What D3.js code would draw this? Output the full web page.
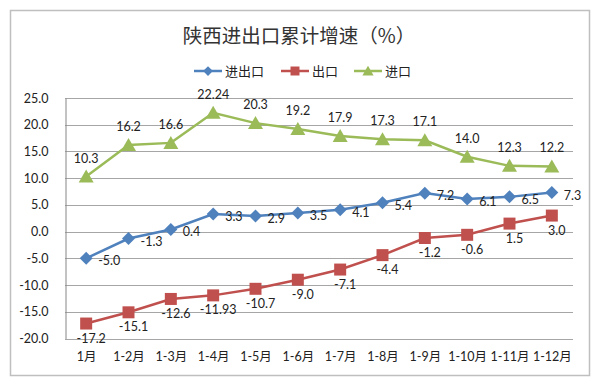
<!DOCTYPE html>
<html>
<head>
<meta charset="utf-8">
<script src="https://cdn.jsdelivr.net/npm/d3@7"></script>
<style>
  body { margin: 0; background: #fff; }
  text { font-family: Lato, "Noto Sans CJK SC", sans-serif; }
</style>
</head>
<body>
<div id="chart"></div>
<script>
var months = ["1月", "1-2月", "1-3月", "1-4月", "1-5月", "1-6月", "1-7月", "1-8月", "1-9月", "1-10月", "1-11月", "1-12月"];
var total = [-5.0, -1.3, 0.4, 3.3, 2.9, 3.5, 4.1, 5.4, 7.2, 6.1, 6.5, 7.3];
var exportsV = [-17.2, -15.1, -12.6, -11.93, -10.7, -9.0, -7.1, -4.4, -1.2, -0.6, 1.5, 3.0];
var importsV = [10.3, 16.2, 16.6, 22.24, 20.3, 19.2, 17.9, 17.3, 17.1, 14.0, 12.3, 12.2];
var totalLabels = ["-5.0", "-1.3", "0.4", "3.3", "2.9", "3.5", "4.1", "5.4", "7.2", "6.1", "6.5", "7.3"];
var exportLabels = ["-17.2", "-15.1", "-12.6", "-11.93", "-10.7", "-9.0", "-7.1", "-4.4", "-1.2", "-0.6", "1.5", "3.0"];
var importLabels = ["10.3", "16.2", "16.6", "22.24", "20.3", "19.2", "17.9", "17.3", "17.1", "14.0", "12.3", "12.2"];
var yTicks = [-20, -15, -10, -5, 0, 5, 10, 15, 20, 25];

var W = 600, H = 387;
var margin = { top: 98, right: 27, bottom: 48, left: 65 };

var svg = d3.select("#chart").append("svg")
    .attr("width", W)
    .attr("height", H);

// outer frame
svg.append("rect")
    .attr("x", 10.5).attr("y", 10.5)
    .attr("width", 579).attr("height", 365)
    .attr("fill", "#fff")
    .attr("stroke", "#bfbfbf")
    .attr("stroke-width", 1.5);

var x = d3.scalePoint()
    .domain(months)
    .range([margin.left, W - margin.right])
    .padding(0.5);

var y = d3.scaleLinear()
    .domain([-20, 25])
    .range([H - margin.bottom - 0.5, margin.top]);

// gridlines
svg.append("g")
    .selectAll("line")
    .data(yTicks).enter().append("line")
    .attr("x1", margin.left).attr("x2", W - margin.right)
    .attr("y1", function(d) { return Math.round(y(d)) + 0.5; })
    .attr("y2", function(d) { return Math.round(y(d)) + 0.5; })
    .attr("stroke", "#a6a6a6")
    .attr("stroke-width", 1);

// y axis
var yAxis = svg.append("g")
    .attr("transform", "translate(" + (margin.left + 0.5) + ",0)")
    .call(d3.axisLeft(y).tickValues(yTicks).tickSize(0).tickPadding(17)
        .tickFormat(function(d) { return d.toFixed(1); }));
yAxis.select(".domain").attr("stroke", "#868686");
yAxis.selectAll("text").attr("font-size", 12.5).attr("fill", "#222")
    .style("font-family", "Lato, sans-serif");

// x axis labels
var xAxis = svg.append("g")
    .attr("transform", "translate(0," + (H - margin.bottom) + ")")
    .call(d3.axisBottom(x).tickSize(0).tickPadding(13));
xAxis.select(".domain").remove();
xAxis.selectAll("text").attr("font-size", 12.5).attr("fill", "#222");

var series = [
  { name: "进出口", values: total, labels: totalLabels, color: "#4f81bd", marker: "diamond" },
  { name: "出口", values: exportsV, labels: exportLabels, color: "#c0504d", marker: "square" },
  { name: "进口", values: importsV, labels: importLabels, color: "#9bbb59", marker: "triangle" }
];

function markerPath(type) {
  if (type === "diamond") return "M0,-6.5L6.5,0L0,6.5L-6.5,0Z";
  if (type === "square") return "M-6,-6L6,-6L6,6L-6,6Z";
  return "M0,-7L7.5,6L-7.5,6Z";
}

var line = d3.line()
    .x(function(d, i) { return x(months[i]); })
    .y(function(d) { return y(d); });

series.forEach(function(s) {
  svg.append("path")
      .datum(s.values)
      .attr("fill", "none")
      .attr("stroke", s.color)
      .attr("stroke-width", 2.5)
      .attr("d", line);

  svg.append("g").selectAll("path")
      .data(s.values).enter().append("path")
      .attr("transform", function(d, i) { return "translate(" + x(months[i]) + "," + y(d) + ")"; })
      .attr("d", markerPath(s.marker))
      .attr("fill", s.color);
});

// data labels
var lbl = svg.append("g").attr("font-size", 12.5).attr("fill", "#222");
lbl.selectAll(".tl").data(total).enter().append("text")
    .attr("x", function(d, i) { return x(months[i]) + 12; })
    .attr("y", function(d) { return y(d) + 7; })
    .text(function(d, i) { return totalLabels[i]; });
lbl.selectAll(".el").data(exportsV).enter().append("text")
    .attr("x", function(d, i) { return x(months[i]) + 5; })
    .attr("y", function(d) { return y(d) + 19; })
    .attr("text-anchor", "middle")
    .text(function(d, i) { return exportLabels[i]; });
lbl.selectAll(".il").data(importsV).enter().append("text")
    .attr("x", function(d, i) { return x(months[i]); })
    .attr("y", function(d) { return y(d) - 14; })
    .attr("text-anchor", "middle")
    .text(function(d, i) { return importLabels[i]; });

// title
svg.append("text")
    .attr("x", 299).attr("y", 43)
    .attr("text-anchor", "middle")
    .attr("font-size", 19.5)
    .attr("fill", "#333")
    .style("font-family", "'Noto Sans CJK SC', sans-serif")
    .text("陕西进出口累计增速（%）");

// legend
var legendX = [194, 281, 354];
var leg = svg.append("g");
series.forEach(function(s, i) {
  var g = leg.append("g").attr("transform", "translate(" + legendX[i] + ",71)");
  g.append("line").attr("x1", 0).attr("x2", 28).attr("stroke", s.color).attr("stroke-width", 2.5);
  g.append("path").attr("transform", "translate(14,0) scale(0.75)").attr("d", markerPath(s.marker)).attr("fill", s.color);
  g.append("text").attr("x", 31).attr("y", 5).attr("font-size", 13).attr("fill", "#222")
      .style("font-family", "'Noto Sans CJK SC', sans-serif")
      .text(s.name);
});
</script>
</body>
</html>
